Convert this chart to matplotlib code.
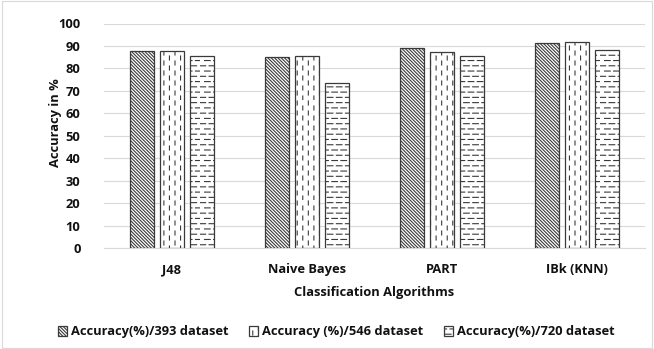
import numpy as np
import matplotlib
matplotlib.use("Agg")
import matplotlib.pyplot as plt
import matplotlib.hatch as mhatch
from matplotlib.path import Path
from matplotlib.patches import Rectangle

categories = ["J48", "Naive Bayes", "PART", "IBk (KNN)"]
series_names = ["Accuracy(%)/393 dataset", "Accuracy (%)/546 dataset", "Accuracy(%)/720 dataset"]
acc_393 = [87.6, 85.1, 89.3, 91.1]
acc_546 = [87.6, 85.4, 87.5, 91.8]
acc_720 = [85.7, 73.7, 85.6, 88.2]
yticks = list(range(0, 101, 10))


# --- custom dashed hatches (replace '|' and '-') ---
class DashedVertical(mhatch.HatchPatternBase):
    def __init__(self, hatch, density):
        n = hatch.count('|')
        self.ncols = 18 * n
        self.nrows = 10
        self.num_vertices = self.ncols * self.nrows * 2 if n else 0

    def set_vertices_and_codes(self, vertices, codes):
        k = 0
        for c in range(self.ncols):
            x = (c + 0.5) / self.ncols
            off = 0.0 if c % 2 == 0 else 0.5
            for r in range(self.nrows):
                y0 = (r + off) / self.nrows
                y1 = y0 + 0.4 / self.nrows
                vertices[k] = (x, y0)
                vertices[k + 1] = (x, y1)
                codes[k] = Path.MOVETO
                codes[k + 1] = Path.LINETO
                k += 2


class DashedHorizontal(mhatch.HatchPatternBase):
    def __init__(self, hatch, density):
        n = hatch.count('-')
        self.nrows = 19 * n
        self.ncols = 11
        self.num_vertices = self.ncols * self.nrows * 2 if n else 0

    def set_vertices_and_codes(self, vertices, codes):
        k = 0
        for r in range(self.nrows):
            y = (r + 0.5) / self.nrows
            off = 0.0 if r % 2 == 0 else 0.5
            for c in range(self.ncols):
                x0 = (c + off) / self.ncols
                x1 = x0 + 0.62 / self.ncols
                vertices[k] = (x0, y)
                vertices[k + 1] = (x1, y)
                codes[k] = Path.MOVETO
                codes[k + 1] = Path.LINETO
                k += 2


mhatch._hatch_types = [DashedHorizontal if t is mhatch.HorizontalHatch else
                       DashedVertical if t is mhatch.VerticalHatch else t
                       for t in mhatch._hatch_types]

plt.rcParams['font.family'] = ['Open Sans', 'DejaVu Sans']
plt.rcParams['font.weight'] = 'bold'
plt.rcParams['hatch.linewidth'] = 0.8

FS = 9.3
TXT = '#111111'

fig = plt.figure(figsize=(6.54, 3.49), dpi=100)
ax = fig.add_axes([104 / 654, 1 - 248 / 349, 541 / 654, 224.5 / 349])

x = np.arange(len(categories))
w = 0.177
step = 0.222
hatches = ['\\' * 10, '|', '-']
data = [acc_393, acc_546, acc_720]
for i, (vals, name, h) in enumerate(zip(data, series_names, hatches)):
    ax.bar(x + (i - 1) * step, vals, width=w, facecolor='white', edgecolor='#3a3a3a',
           linewidth=0.9, hatch=h, label=name, zorder=3)

ax.set_xlim(-0.5, len(categories) - 0.5)
ax.set_ylim(0, 100)
ax.set_yticks(yticks)
ax.set_xticks(x)
ax.set_xticklabels(categories)
ax.tick_params(axis='both', length=0, labelsize=FS, colors=TXT)
ax.tick_params(axis='y', pad=17)
ax.tick_params(axis='x', pad=11)
for lbl in ax.get_xticklabels() + ax.get_yticklabels():
    lbl.set_fontweight('bold')
ax.grid(axis='y', color='#d9d9d9', linewidth=0.8, zorder=0)
for s in ['top', 'right', 'left']:
    ax.spines[s].set_visible(False)
ax.spines['bottom'].set_color('#d9d9d9')
ax.spines['bottom'].set_linewidth(0.8)

ax.set_ylabel("Accuracy in %", fontsize=FS, fontweight='bold', color=TXT)
ax.yaxis.set_label_coords((55 - 104) / 541, (248 - 122.5) / 224.5)
ax.yaxis.label.set_verticalalignment('center')
ax.set_xlabel("Classification Algorithms", fontsize=FS, fontweight='bold', color=TXT, labelpad=7)

leg = fig.legend(loc='center', bbox_to_anchor=(0.514, 1 - 332 / 349), ncol=3, frameon=False,
                 handlelength=0.7, handleheight=0.7, handletextpad=0.3,
                 columnspacing=1.6, prop={'weight': 'bold', 'size': FS})
for t in leg.get_texts():
    t.set_color(TXT)

fig.patches.append(Rectangle((0.003, 0.004), 0.994, 0.992, transform=fig.transFigure,
                             fill=False, edgecolor='#d9d9d9', linewidth=0.8))

fig.savefig("out.png", dpi=100)
